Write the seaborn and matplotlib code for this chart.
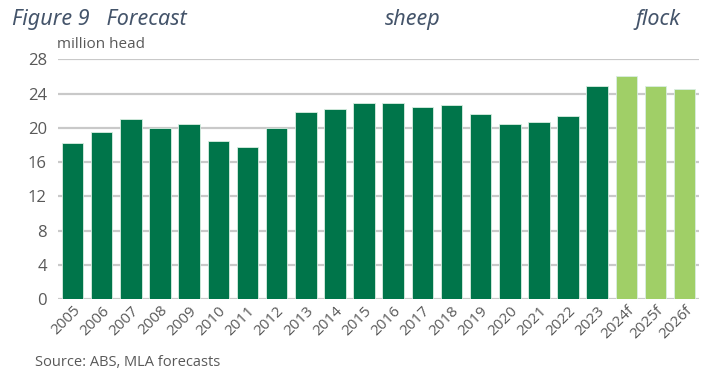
import matplotlib
matplotlib.use("Agg")
import matplotlib.pyplot as plt
import seaborn as sns
import pandas as pd

years = ["2005", "2006", "2007", "2008", "2009", "2010", "2011", "2012", "2013", "2014",
         "2015", "2016", "2017", "2018", "2019", "2020", "2021", "2022", "2023",
         "2024f", "2025f", "2026f"]
flock = [18.2, 19.45, 21.0, 20.0, 20.5, 18.5, 17.7, 20.0, 21.85, 22.25,
         22.85, 22.95, 22.4, 22.7, 21.6, 20.45, 20.7, 21.35, 24.9,
         26.1, 24.9, 24.5]
kind = ["Actual"] * 19 + ["Forecast"] * 3
yticks = [0, 4, 8, 12, 16, 20, 24, 28]

df = pd.DataFrame({"year": years, "flock": flock, "kind": kind})

sns.set_theme(style="white")
plt.rcParams["font.family"] = ["Open Sans", "DejaVu Sans"]

fig = plt.figure(figsize=(7.01, 3.73), dpi=100)
ax = fig.add_axes([0.0827, 0.1984, 0.9148, 0.6426])

sns.barplot(data=df, x="year", y="flock", hue="kind",
            palette={"Actual": "#00754A", "Forecast": "#A0CF67"},
            saturation=1, dodge=False, legend=False, width=0.74, ax=ax,
            edgecolor="#d9eee2", linewidth=0.6, zorder=3)

ax.set_ylim(0, 28)
ax.set_xlim(-0.5, len(years) - 0.5)
ax.set_yticks(yticks)
ax.yaxis.grid(True, color="#c9c9c9", linewidth=1.6, zorder=0)
ax.set_axisbelow(True)
for s in ax.spines.values():
    s.set_visible(False)
ax.set_xlabel("")
ax.set_ylabel("")
ax.tick_params(axis="y", length=0, pad=8, labelsize=12, labelcolor="#595959")
ax.tick_params(axis="x", length=0, pad=3, labelsize=11, labelcolor="#595959")
plt.setp(ax.get_xticklabels(), rotation=45, ha="right", rotation_mode="anchor")

fig.text(57 / 701, 1 - 44 / 373, "million head", fontsize=11, color="#595959",
         va="center", ha="left")

tc = "#44546A"
tf = ["Noto Sans", "DejaVu Sans"]
fig.text(12 / 701, 1 - 20 / 373, "Figure 9   Forecast", fontsize=15.5, style="italic",
         color=tc, va="center", ha="left", family=tf)
fig.text(385 / 701, 1 - 20 / 373, "sheep", fontsize=15.5, style="italic",
         color=tc, va="center", ha="left", family=tf)
fig.text(635 / 701, 1 - 20 / 373, "flock", fontsize=15.5, style="italic",
         color=tc, va="center", ha="left", family=tf)

fig.text(35 / 701, 1 - 362 / 373, "Source: ABS, MLA forecasts", fontsize=10.5,
         color="#595959", va="center", ha="left")

fig.savefig("out.png", dpi=100)
